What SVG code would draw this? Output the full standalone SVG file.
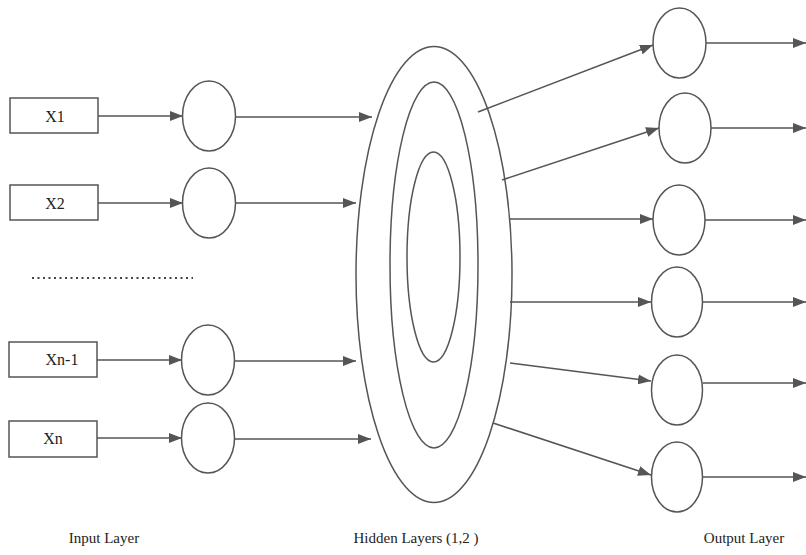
<svg xmlns="http://www.w3.org/2000/svg" width="806" height="555" viewBox="0 0 806 555">
<defs>
<marker id="ah" markerUnits="userSpaceOnUse" markerWidth="14" markerHeight="10" refX="13" refY="5" orient="auto">
<path d="M0,0 L13,5 L0,10 Z" fill="#555"/>
</marker>
<style>
.n{fill:#fff;stroke:#555;stroke-width:1.5}
.c line{stroke:#555;stroke-width:1.6}
.a{marker-end:url(#ah)}
.t{font-family:"Liberation Serif",serif;font-size:16px;fill:#222;text-anchor:middle}
.l{font-family:"Liberation Serif",serif;font-size:15px;fill:#222;text-anchor:middle}
</style>
</defs>
<rect width="806" height="555" fill="#fff"/>
<g id="in-x1"><rect class="n" x="10" y="98" width="88" height="35"/><text class="t" x="55" y="122">X1</text></g>
<g id="in-x2"><rect class="n" x="10" y="185" width="88" height="35"/><text class="t" x="55" y="209">X2</text></g>
<g id="in-xn1"><rect class="n" x="9" y="342" width="88" height="35"/><text class="t" x="62" y="365">Xn-1</text></g>
<g id="in-xn"><rect class="n" x="9" y="421" width="88" height="36"/><text class="t" x="53" y="444">Xn</text></g>
<line x1="32" y1="278" x2="193" y2="278" stroke="#444" stroke-width="2" stroke-dasharray="2,3.5"/>
<g id="i1"><ellipse class="n" cx="209" cy="116" rx="26.5" ry="35"/></g>
<g id="i2"><ellipse class="n" cx="209" cy="203" rx="26.5" ry="35"/></g>
<g id="i3"><ellipse class="n" cx="208" cy="360" rx="26.5" ry="35"/></g>
<g id="i4"><ellipse class="n" cx="208" cy="438" rx="26.5" ry="35"/></g>
<g id="hidden">
<ellipse class="n" cx="434" cy="274.5" rx="78" ry="228"/>
<ellipse class="n" cx="434" cy="265" rx="44" ry="183"/>
<ellipse class="n" cx="433.5" cy="257" rx="26.5" ry="105"/>
</g>
<g id="o1"><ellipse class="n" cx="679.5" cy="43" rx="26.5" ry="35"/></g>
<g id="o2"><ellipse class="n" cx="685" cy="128" rx="26" ry="35"/></g>
<g id="o3"><ellipse class="n" cx="679" cy="220" rx="26" ry="35"/></g>
<g id="o4"><ellipse class="n" cx="677" cy="302" rx="25.5" ry="35"/></g>
<g id="o5"><ellipse class="n" cx="677" cy="390" rx="25.5" ry="35"/></g>
<g id="o6"><ellipse class="n" cx="677" cy="477" rx="25.5" ry="35"/></g>
<g id="connectors" class="c">
<line class="a" x1="98" y1="116" x2="183" y2="116"/>
<line class="a" x1="98" y1="203" x2="183" y2="203"/>
<line class="a" x1="97" y1="360" x2="182" y2="360"/>
<line class="a" x1="97" y1="438" x2="182" y2="438"/>
<line class="a" x1="236" y1="117" x2="372" y2="117"/>
<line class="a" x1="236" y1="203" x2="356" y2="203"/>
<line class="a" x1="235" y1="361" x2="356" y2="361"/>
<line class="a" x1="235" y1="439" x2="371" y2="439"/>
<line class="a" x1="478" y1="112" x2="653" y2="45"/>
<line class="a" x1="502" y1="180" x2="659" y2="128"/>
<line class="a" x1="509" y1="219" x2="653" y2="219"/>
<line class="a" x1="510" y1="302" x2="651" y2="302"/>
<line class="a" x1="510" y1="363" x2="651" y2="381"/>
<line class="a" x1="493" y1="423" x2="651" y2="475"/>
<line class="a" x1="706" y1="43" x2="806" y2="43"/>
<line class="a" x1="711" y1="128" x2="806" y2="128"/>
<line class="a" x1="705" y1="220" x2="806" y2="220"/>
<line class="a" x1="703" y1="302" x2="806" y2="302"/>
<line class="a" x1="703" y1="383" x2="806" y2="383"/>
<line class="a" x1="703" y1="477" x2="806" y2="477"/>
</g>
<text class="l" x="104" y="543">Input Layer</text>
<text class="l" x="416" y="543">Hidden Layers (1,2 )</text>
<text class="l" x="744" y="543">Output Layer</text>
</svg>
